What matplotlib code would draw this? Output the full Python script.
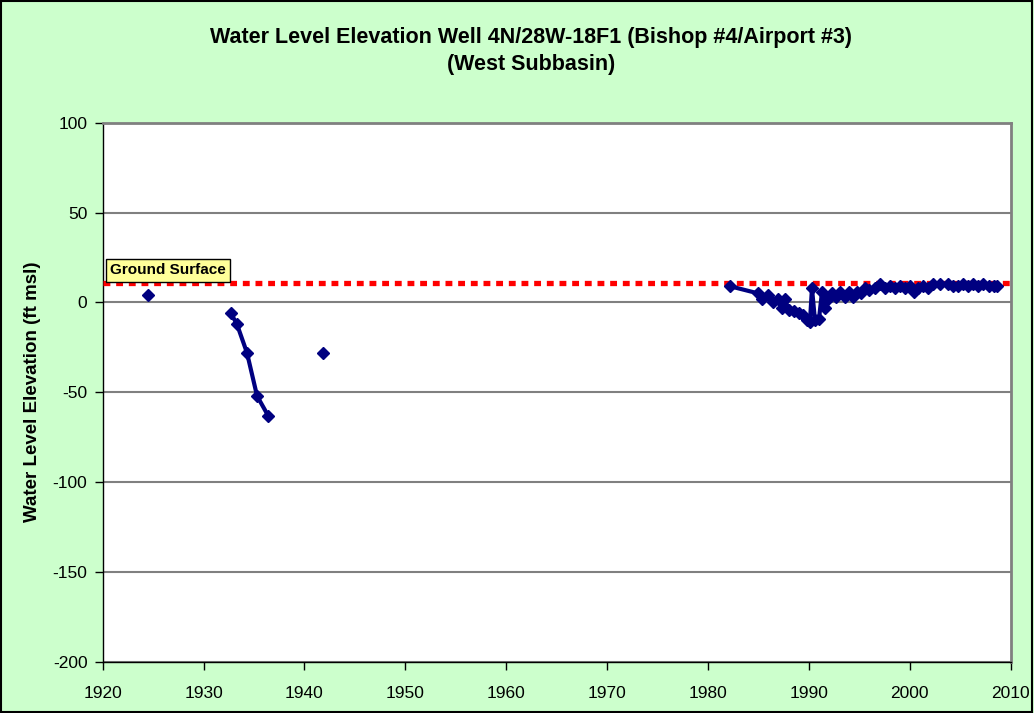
import matplotlib
matplotlib.use("Agg")
import matplotlib.pyplot as plt
import numpy as np
from matplotlib.patches import Rectangle

plt.rcParams['font.family'] = ['Liberation Sans', 'DejaVu Sans']
plt.rcParams['axes.unicode_minus'] = False

# Data
years_early = [1924.5, np.nan, 1932.7, 1933.3, 1934.3, 1935.3, 1936.4, np.nan, 1941.8]
levels_early = [4, np.nan, -6, -12, -28, -52, -63, np.nan, -28]

years_late = [1982.2, 1985.0, 1985.3, 1985.9, 1986.4, 1986.9, 1987.3, 1987.6, 1988.0, 1988.5,
              1989.0, 1989.4, 1989.8, 1990.1, 1990.3, 1990.6, 1991.0, 1991.3, 1991.6, 1991.9,
              1992.3, 1992.7, 1993.1, 1993.6, 1994.0, 1994.4, 1994.8, 1995.2, 1995.6, 1996.0,
              1996.5, 1997.0, 1997.5, 1998.0, 1998.5, 1999.0, 1999.5, 2000.0, 2000.4, 2000.8,
              2001.3, 2001.8, 2002.3, 2003.0, 2003.8, 2004.3, 2004.8, 2005.3, 2005.8, 2006.3,
              2006.8, 2007.3, 2007.8, 2008.3, 2008.6]
levels_late = [9, 5, 2, 4, 0, 2, -3, 2, -4, -5,
               -6, -7, -10, -11, 8, -10, -9, 6, -3, 2,
               5, 3, 6, 3, 6, 3, 6, 5, 8, 7,
               8, 10, 8, 9, 8, 9, 8, 9, 6, 8,
               9, 8, 10, 10, 10, 9, 9, 10, 9, 10,
               9, 10, 9, 9, 9]

ground_surface = 11
ground_x = [1920, 2010]

title = "Water Level Elevation Well 4N/28W-18F1 (Bishop #4/Airport #3)\n(West Subbasin)"
ylabel = "Water Level Elevation (ft msl)"
xticks = list(range(1920, 2011, 10))
yticks = list(range(-200, 101, 50))

W, H = 1034, 713
fig = plt.figure(figsize=(W / 100, H / 100), dpi=100)
fig.patch.set_facecolor('#CCFFCC')
fig.patches.append(Rectangle((0.001, 0.001), 0.997, 0.997, transform=fig.transFigure,
                             fill=False, edgecolor='black', linewidth=1.5))

ax = fig.add_axes([102.7 / W, 1 - 662 / H, (1010.7 - 102.7) / W, (662 - 122.7) / H])
ax.set_facecolor('white')
ax.set_xlim(1920, 2010)
ax.set_ylim(-200, 100)
ax.set_xticks(xticks)
ax.set_yticks(yticks)
ax.tick_params(axis='both', direction='out', length=6, width=1, labelsize=12.5)
ax.tick_params(axis='y', pad=5)
ax.tick_params(axis='x', pad=11)
ax.yaxis.grid(True, color='#808080', linewidth=1.5)
ax.set_axisbelow(True)
for s in ['top', 'right']:
    ax.spines[s].set_color('#808080')
    ax.spines[s].set_linewidth(2)
for s in ['left', 'bottom']:
    ax.spines[s].set_color('black')
    ax.spines[s].set_linewidth(1)

ax.plot(ground_x, [ground_surface, ground_surface], color='#FF0000', linewidth=3.8,
        linestyle=(0, (1.3, 1.1)), dash_capstyle='butt', zorder=3, clip_on=False)

ax.plot(years_early, levels_early, color='#000080', linewidth=3, marker='D', markersize=6,
        zorder=4)
ax.plot(years_late, levels_late, color='#000080', linewidth=3, marker='D', markersize=6,
        zorder=4)

ax.text(0.0085, 0.726, "Ground Surface", transform=ax.transAxes, fontsize=11, fontweight='bold',
        va='center', ha='left',
        bbox=dict(boxstyle='square,pad=0.28', facecolor='#FFFF99', edgecolor='black', linewidth=1))

fig.text(531 / W, 1 - 51 / H, title, ha='center', va='center', fontsize=15.5, fontweight='bold',
         linespacing=1.34)
fig.text(32.5 / W, 1 - 392 / H, ylabel, rotation=90, ha='center', va='center', fontsize=13.5,
         fontweight='bold')

fig.savefig('out.png', dpi=100, facecolor=fig.get_facecolor())
